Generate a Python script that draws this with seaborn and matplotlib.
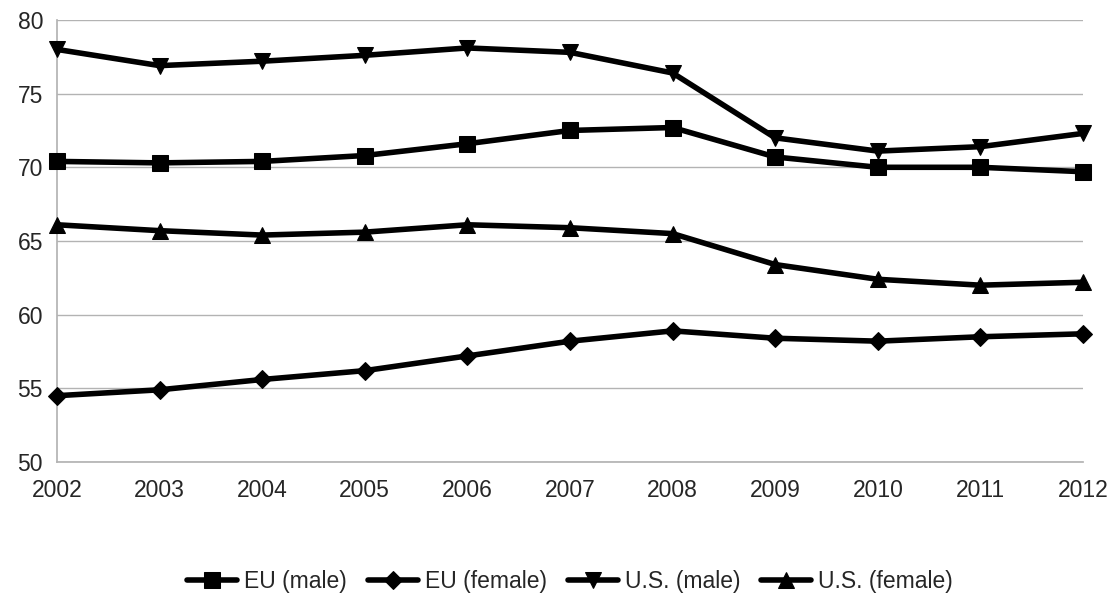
import matplotlib
matplotlib.use("Agg")
import matplotlib.pyplot as plt
import seaborn as sns
import pandas as pd

years = list(range(2002, 2013))
eu_male = [70.4, 70.3, 70.4, 70.8, 71.6, 72.5, 72.7, 70.7, 70.0, 70.0, 69.7]
eu_female = [54.5, 54.9, 55.6, 56.2, 57.2, 58.2, 58.9, 58.4, 58.2, 58.5, 58.7]
us_male = [78.0, 76.9, 77.2, 77.6, 78.1, 77.8, 76.4, 72.0, 71.1, 71.4, 72.3]
us_female = [66.1, 65.7, 65.4, 65.6, 66.1, 65.9, 65.5, 63.4, 62.4, 62.0, 62.2]

series = [("EU (male)", eu_male, "s", 11), ("EU (female)", eu_female, "D", 9),
          ("U.S. (male)", us_male, "v", 12), ("U.S. (female)", us_female, "^", 12)]

sns.set_theme(style="white")
plt.rcParams['font.family'] = ['Liberation Sans', 'DejaVu Sans']
fig = plt.figure(figsize=(11.17, 5.99), dpi=100)
ax = fig.add_axes([0.051, 0.2287, 0.9186, 0.738])
for name, vals, m, ms in series:
    df = pd.DataFrame({"year": years, "v": vals})
    sns.lineplot(data=df, x="year", y="v", ax=ax, color="black", lw=4,
                 marker=m, markersize=ms, markeredgecolor="black", label=name,
                 clip_on=False, zorder=3)
ax.set_xlim(2002, 2012)
ax.set_ylim(50, 80)
ax.set_xticks(years)
ax.set_yticks(range(50, 81, 5))
ax.yaxis.grid(True, color="#b3b3b3", lw=1)
ax.set_xlabel(""); ax.set_ylabel("")
ax.tick_params(labelsize=16.5, length=0)
ax.tick_params(axis="x", pad=12)
ax.tick_params(axis="y", pad=10)
for s in ["top", "right"]:
    ax.spines[s].set_visible(False)
for s in ["left", "bottom"]:
    ax.spines[s].set_color("#b3b3b3")
ax.legend(loc="center", bbox_to_anchor=(0.5, -0.27), ncol=4, frameon=False,
          fontsize=16.5, handlelength=2.2, columnspacing=0.9, handletextpad=0.3)
fig.savefig("out.png", dpi=100)
